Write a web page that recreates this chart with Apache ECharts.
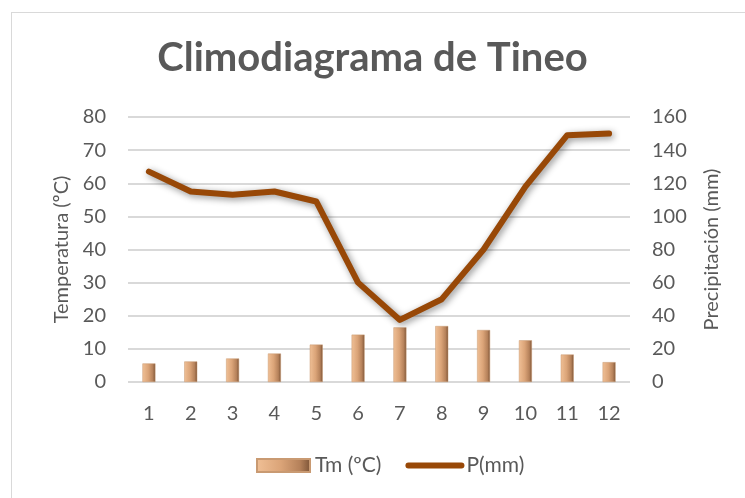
<!DOCTYPE html>
<html><head><meta charset="utf-8">
<script src="https://cdn.jsdelivr.net/npm/echarts@6/dist/echarts.min.js"></script>
<style>
html,body{margin:0;padding:0;background:#fff;}
#frame{position:absolute;left:11px;top:12px;width:760px;height:500px;border:1px solid #d9d9d9;box-sizing:border-box;}
#c{position:absolute;left:0;top:0;width:745px;height:498px;}
</style></head>
<body>
<div id="frame"></div>
<div id="c"></div>
<script>
const titleText = 'Climodiagrama de Tineo';
const months = ['1','2','3','4','5','6','7','8','9','10','11','12'];
const tempValues = [5.6, 6.2, 7.1, 8.6, 11.3, 14.3, 16.5, 16.9, 15.7, 12.6, 8.3, 6.0];
const precipValues = [127, 115, 113, 115, 109, 60, 37.5, 50, 80, 118, 149, 150];
const tempName = 'Tm (ºC)';
const precipName = 'P(mm)';
const leftAxisName = 'Temperatura (ºC)';
const rightAxisName = 'Precipitación (mm)';

const chart = echarts.init(document.getElementById('c'));
const fontFam = 'Lato, "Open Sans", sans-serif';
const txt = '#595959';
const barGrad = new echarts.graphic.LinearGradient(0,0,1,0,[
  {offset:0,color:'#f0c096'},{offset:0.45,color:'#dba478'},{offset:0.8,color:'#b5815a'},{offset:1,color:'#7a5235'}
]);
chart.setOption({
  animation:false,
  title:{text:titleText,left:'center',top:33,textStyle:{fontFamily:fontFam,fontSize:40,fontWeight:'bold',color:txt}},
  grid:{left:128,right:115,top:117,bottom:116},
  legend:{bottom:17,left:251,itemGap:24,itemWidth:53,itemHeight:13,
    textStyle:{fontFamily:fontFam,fontSize:21,color:txt},
    data:[{name:tempName,icon:'rect'},{name:precipName,itemStyle:{opacity:0},lineStyle:{width:6,cap:'round',color:'#984807'}}]},
  xAxis:{type:'category',data:months,axisLine:{show:false},axisTick:{show:false},
    axisLabel:{fontFamily:fontFam,fontSize:20,color:txt,margin:22}},
  yAxis:[
    {type:'value',min:0,max:80,interval:10,name:leftAxisName,nameLocation:'middle',nameGap:55,
     nameTextStyle:{fontFamily:fontFam,fontSize:20,color:txt},
     axisLabel:{fontFamily:fontFam,fontSize:20,color:txt,margin:22},
     splitLine:{lineStyle:{color:'#d9d9d9',width:2}}},
    {type:'value',min:0,max:160,interval:20,name:rightAxisName,nameLocation:'middle',nameGap:72,nameRotate:90,
     nameTextStyle:{fontFamily:fontFam,fontSize:20,color:txt},
     axisLabel:{fontFamily:fontFam,fontSize:20,color:txt,margin:22},
     splitLine:{show:false}}
  ],
  series:[
    {name:tempName,type:'bar',data:tempValues,barWidth:13,yAxisIndex:0,
     itemStyle:{color:barGrad,borderColor:'#c99a72',borderWidth:0.5}},
    {name:precipName,type:'line',data:precipValues,yAxisIndex:1,symbol:'none',
     lineStyle:{color:'#984807',width:6,shadowColor:'rgba(0,0,0,0.45)',shadowBlur:7,shadowOffsetX:2,shadowOffsetY:2,cap:'round',join:'round'},
     itemStyle:{color:'#984807'}}
  ]
});
</script>
</body></html>
